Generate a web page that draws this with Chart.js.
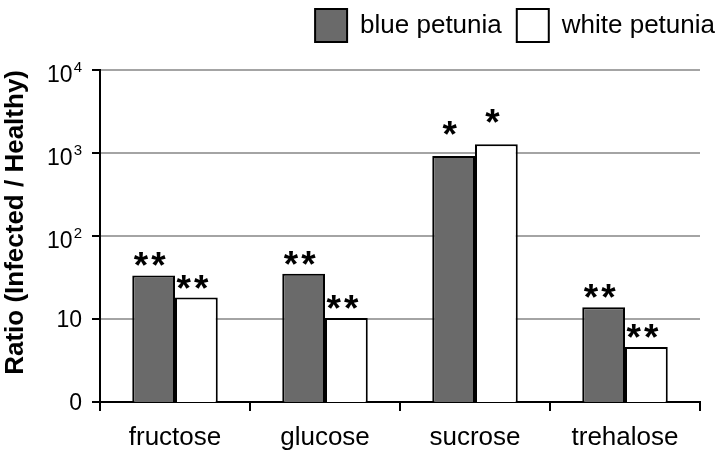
<!DOCTYPE html>
<html>
<head>
<meta charset="utf-8">
<script src="https://cdn.jsdelivr.net/npm/chart.js@4/dist/chart.umd.min.js"></script>
<style>
  html, body { margin: 0; padding: 0; background: #fff; }
  #wrap { width: 725px; height: 459px; }
</style>
</head>
<body>
<div id="wrap"><canvas id="c"></canvas></div>
<script>
// sugar ratios, infected vs healthy leaves (log scale)
const sugars = ['fructose', 'glucose', 'sucrose', 'trehalose'];
const bluePetunia = [33.5, 35, 923, 13.9];
const whitePetunia = [18.1, 10.3, 1276, 4.6];
const blueStars = ['**', '**', '*', '**'];
const whiteStars = ['**', '**', '*', '**'];
const yTicks = [1, 10, 100, 1000, 10000];
const yTickBase = ['0', '10', '10', '10', '10'];
const yTickExp = ['', '', '2', '3', '4'];

const FONT = '"Liberation Sans", Arial, sans-serif';

// asterisks above each bar
const starsPlugin = {
  id: 'stars',
  afterDatasetsDraw(chart) {
    const ctx = chart.ctx;
    const sets = [blueStars, whiteStars];
    ctx.save();
    ctx.fillStyle = '#000';
    ctx.font = 'bold 37px ' + FONT;
    ctx.letterSpacing = '3px';
    ctx.textAlign = 'left';
    ctx.textBaseline = 'alphabetic';
    sets.forEach((stars, di) => {
      chart.getDatasetMeta(di).data.forEach((bar, i) => {
        const gap = stars[i] === '*' ? 21 : 9;
        const m = ctx.measureText(stars[i]);
        const w = m.width - 3;
        ctx.fillText(stars[i], bar.x - 4 - w / 2, bar.y - gap - m.actualBoundingBoxDescent);
      });
    });
    ctx.restore();
  }
};

// y tick labels with real superscripts (10², 10³ ...)
const powerLabels = {
  id: 'powerLabels',
  afterDraw(chart) {
    const ctx = chart.ctx;
    const y = chart.scales.y;
    const right = y.right - 18;
    ctx.save();
    ctx.fillStyle = '#000';
    ctx.textAlign = 'right';
    ctx.textBaseline = 'alphabetic';
    yTicks.forEach((v, i) => {
      const py = y.getPixelForValue(v);
      if (yTickExp[i]) {
        ctx.font = '15px ' + FONT;
        ctx.fillText(yTickExp[i], right, py + 2);
        const w = ctx.measureText(yTickExp[i]).width;
        ctx.font = '23px ' + FONT;
        ctx.fillText(yTickBase[i], right - w - 1, py + 12);
      } else {
        ctx.font = '23px ' + FONT;
        ctx.fillText(yTickBase[i], right, py + 8);
      }
    });
    ctx.restore();
  }
};

// push the plot down under the legend and nudge the legend to the right edge
const legendSpace = {
  id: 'legendSpace',
  beforeInit(chart) {
    const fit = chart.legend.fit;
    chart.legend.fit = function () {
      fit.call(this);
      this.height += 12;
    };
  },
  afterLayout(chart) {
    const lg = chart.legend;
    lg.left += 30; lg.right += 30;
    lg.top -= 6; lg.bottom -= 6;
  }
};

new Chart(document.getElementById('c').getContext('2d'), {
  type: 'bar',
  data: {
    labels: sugars,
    datasets: [
      { label: 'blue petunia', data: bluePetunia, backgroundColor: '#6a6a6a', borderColor: '#000', borderWidth: 2 },
      { label: 'white petunia', data: whitePetunia, backgroundColor: '#fff', borderColor: '#000', borderWidth: 2 }
    ]
  },
  options: {
    responsive: true,
    maintainAspectRatio: false,
    animation: false,
    layout: { padding: { left: 0, right: 25, top: 0, bottom: 0 } },
    datasets: { bar: { barPercentage: 1, categoryPercentage: 0.57 } },
    plugins: {
      legend: {
        position: 'top',
        align: 'end',
        labels: { boxWidth: 32, boxHeight: 33, padding: 15, color: '#000', font: { family: FONT, size: 26 } }
      },
      tooltip: { enabled: false }
    },
    scales: {
      x: {
        afterFit: s => { s.height = 57; },
        border: { color: '#000', width: 2 },
        grid: { drawOnChartArea: false, offset: true, tickLength: 9, tickColor: '#000', lineWidth: 2 },
        ticks: { color: '#000', font: { family: FONT, size: 26 }, padding: 11 }
      },
      y: {
        type: 'logarithmic',
        min: 1,
        max: 10000,
        afterFit: s => { s.width = 100; },
        afterBuildTicks: s => { s.ticks = yTicks.map(v => ({ value: v })); },
        border: { color: '#000', width: 2 },
        grid: {
          color: c => (c.tick && c.tick.value === 1 ? 'rgba(0,0,0,0)' : '#a4a4a4'),
          tickColor: '#000',
          tickLength: 8,
          lineWidth: 2
        },
        ticks: { display: false },
        title: { display: true, align: 'end', text: 'Ratio (Infected / Healthy)', color: '#000', font: { family: FONT, size: 26, weight: 'bold' }, padding: 0 }
      }
    }
  },
  plugins: [starsPlugin, powerLabels, legendSpace]
});
</script>
</body>
</html>
